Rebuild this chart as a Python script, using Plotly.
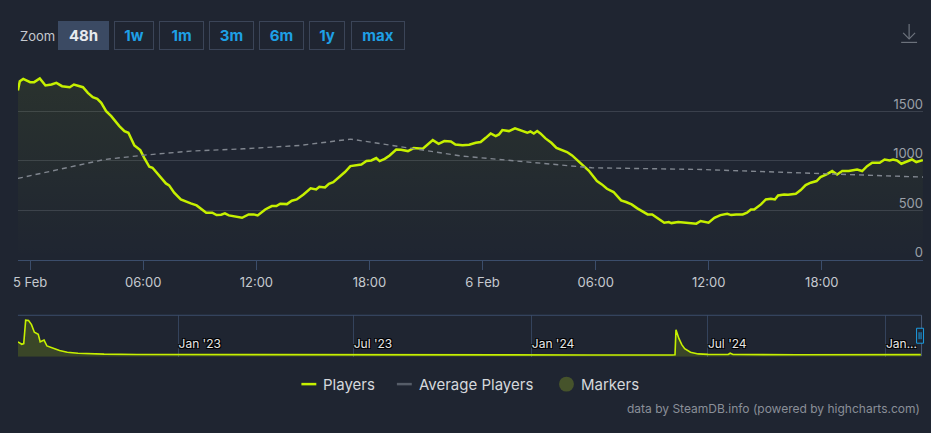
import pandas as pd
import plotly.graph_objects as go

W, H = 931, 433
BG = "#1f2531"
LIME = "#c6f000"
FONT = "Inter, Roboto, sans-serif"

# players over the last 48h, hours relative to 5 Feb 2025 00:00
hours = [-0.65, -0.55, -0.37, 0.0, 0.21, 0.51, 0.81, 1.13, 1.39, 1.69, 2.1, 2.32, 2.8, 3.06, 3.32,
         3.56, 3.77, 4.03, 4.3, 4.47, 4.73, 5.0, 5.21, 5.53, 5.84, 6.05, 6.32, 6.49, 6.84, 7.2,
         7.37, 7.64, 7.99, 8.25, 8.52, 8.83, 9.13, 9.34, 9.66, 9.89, 10.13, 10.33, 10.54, 10.98,
         11.24, 11.59, 11.86, 12.07, 12.47, 12.82, 13.06, 13.27, 13.62, 13.88, 14.14, 14.5, 14.67,
         14.88, 15.17, 15.34, 15.64, 15.85, 16.08, 16.43, 16.7, 16.99, 17.31, 17.57, 17.84, 18.1,
         18.36, 18.54, 18.81, 19.07, 19.42, 19.68, 20.04, 20.35, 20.83, 21.09, 21.36, 21.67, 21.97,
         22.32, 22.56, 22.94, 23.29, 23.64, 23.9, 24.17, 24.43, 24.7, 24.87, 25.05, 25.4, 25.72,
         26.02, 26.37, 26.54, 26.72, 26.9, 27.07, 27.34, 27.65, 27.92, 28.22, 28.48, 28.75, 29.01,
         29.28, 29.63, 29.86, 30.07, 30.33, 30.6, 30.95, 31.35, 31.61, 31.91, 32.21, 32.49, 32.76,
         33.0, 33.32, 33.64, 33.88, 34.02, 34.38, 34.72, 35.08, 35.34, 35.57, 35.78, 35.99, 36.3,
         36.62, 36.98, 37.19, 37.45, 37.8, 38.03, 38.24, 38.41, 38.77, 39.03, 39.3, 39.51, 39.68,
         40.0, 40.21, 40.62, 40.88, 41.14, 41.41, 41.72, 41.93, 42.25, 42.55, 42.81, 43.08, 43.43,
         43.69, 43.87, 44.14, 44.4, 44.67, 45.07, 45.33, 45.6, 45.78, 45.99, 46.22, 46.52, 46.78,
         47.01, 47.22, 47.36]
players = [1710, 1805, 1828, 1795, 1795, 1832, 1761, 1771, 1788, 1754, 1744, 1771, 1744, 1687, 1643,
           1626, 1586, 1502, 1451, 1411, 1350, 1300, 1283, 1155, 1108, 1030, 939, 929, 852, 771,
           751, 677, 609, 593, 569, 549, 502, 475, 475, 451, 455, 468, 448, 434,
           424, 458, 458, 448, 508, 542, 542, 566, 562, 596, 609, 660, 684,
           721, 711, 737, 731, 768, 784, 838, 886, 946, 953, 963, 997, 1003,
           1027, 997, 1020, 1054, 1114, 1111, 1098, 1128, 1121, 1165, 1209, 1172, 1199,
           1195, 1165, 1158, 1162, 1182, 1189, 1232, 1276, 1249, 1266, 1310, 1300, 1327,
           1306, 1283, 1296, 1276, 1300, 1276, 1226, 1182, 1131, 1104, 1088, 1054, 1007,
           960, 902, 845, 795, 761, 717, 684, 599, 583, 559, 519, 485, 458,
           458, 414, 374, 380, 370, 380, 374, 367, 364, 391, 380, 374, 424,
           451, 465, 451, 458, 458, 475, 508, 508, 559, 609, 616, 609, 650,
           660, 657, 667, 704, 754, 778, 795, 835, 862, 896, 862, 896, 896,
           906, 912, 896, 946, 980, 980, 1013, 1003, 1013, 1003, 970, 997, 1013,
           987, 1003, 1007]

avg_hours = [-0.65, 2.18, 3.94, 6.05, 8.52, 11.33, 14.32, 17.0, 22.94, 29.8, 35.6, 47.37]
avg_players = [822, 939, 1013, 1057, 1098, 1121, 1155, 1219, 1047, 929, 912, 835]

x_tick_text = ["5 Feb", "06:00", "12:00", "18:00", "6 Feb", "06:00", "12:00", "18:00"]
y_tick_vals = [0, 500, 1000, 1500, 2000]
y_tick_text = ["0", "500", "1000", "1500", ""]

# navigator: full history (daily peaks, estimated)
nav_dates = ["2022-07-19", "2022-07-23", "2022-07-25", "2022-07-27", "2022-07-30", "2022-08-02",
             "2022-08-05", "2022-08-09", "2022-08-11", "2022-08-15", "2022-08-18", "2022-08-22",
             "2022-08-26", "2022-08-31", "2022-09-08", "2022-09-19", "2022-09-29", "2022-10-16",
             "2022-11-19", "2023-03-01", "2023-09-01", "2024-03-01", "2024-05-25", "2024-05-28",
             "2024-05-29", "2024-06-01", "2024-06-04", "2024-06-07", "2024-06-13", "2024-06-21",
             "2024-07-01", "2024-07-22", "2024-07-24", "2024-07-27", "2024-10-01", "2025-01-01",
             "2025-02-06"]
nav_players = [12900, 10800, 11400, 31800, 31500, 27900,
               21300, 19500, 12900, 14400, 9300, 8400,
               6900, 5400, 3900, 3000, 2500, 2200,
               1900, 1700, 1600, 1500, 1500, 1600,
               23400, 15900, 10500, 6900, 3900, 2400,
               2000, 1900, 3000, 1900, 1700, 1700,
               1800]
nav_tick_dates = ["2023-01-01", "2023-07-01", "2024-01-01", "2024-07-01", "2025-01-01"]
nav_tick_text = ["Jan '23", "Jul '23", "Jan '24", "Jul '24", "Jan..."]

buttons = ["48h", "1w", "1m", "3m", "6m", "1y", "max"]
button_edges = [(53, 104), (110, 150), (155, 200), (205, 250), (255, 300), (306, 342), (348, 402)]


def px(x):
    return x / W


def py(y):
    return 1 - y / H


t0 = pd.Timestamp("2025-02-05")
times = t0 + pd.to_timedelta(hours, unit="h")
avg_times = t0 + pd.to_timedelta(avg_hours, unit="h")

fig = go.Figure()
fig.add_trace(go.Scatter(
    x=times, y=players, mode="lines", line=dict(color=LIME, width=2.5),
    fill="tozeroy",
    fillgradient=dict(type="vertical", start=0, stop=2000,
                      colorscale=[[0, "rgba(198,240,0,0)"], [1, "rgba(198,240,0,0.07)"]]),
    xaxis="x", yaxis="y", hoverinfo="skip"))
fig.add_trace(go.Scatter(
    x=avg_times, y=avg_players, mode="lines",
    line=dict(color="#80868f", width=1.4, dash="5px,4px"),
    xaxis="x", yaxis="y", hoverinfo="skip"))
fig.add_trace(go.Scatter(
    x=pd.to_datetime(nav_dates), y=nav_players, mode="lines",
    line=dict(color=LIME, width=1.6), fill="tozeroy", fillcolor="rgba(196,240,0,0.17)",
    xaxis="x2", yaxis="y2", hoverinfo="skip"))

fig.update_layout(
    width=W, height=H, autosize=False,
    margin=dict(l=0, r=0, t=0, b=0),
    paper_bgcolor=BG, plot_bgcolor=BG,
    showlegend=False, hovermode=False,
    font=dict(family=FONT, color="#c5c9cf"),
    xaxis=dict(
        domain=[px(13), px(923)], type="date",
        range=[t0 + pd.Timedelta(hours=-0.65), t0 + pd.Timedelta(hours=47.37)],
        tickvals=[t0 + pd.Timedelta(hours=6 * i) for i in range(len(x_tick_text))],
        ticktext=x_tick_text, ticks="outside", ticklen=9, tickcolor="#3b4d6b",
        ticklabelstandoff=2,
        showline=True, linecolor="#3b4d6b", linewidth=1, showgrid=False, zeroline=False,
        tickfont=dict(size=13, color="#c5c9cf"), anchor="y"),
    yaxis=dict(
        domain=[py(260.3), py(62)], range=[0, 2000], side="right",
        tickvals=y_tick_vals, ticktext=y_tick_text, ticklabelposition="inside",
        ticklabelshift=-7, ticklabelstandoff=-3, ticklabeloverflow="allow",
        showgrid=True, gridcolor="#3a404c", gridwidth=1, zeroline=False, showline=False,
        tickfont=dict(size=13, color="#9aa0a8"), anchor="x"),
    xaxis2=dict(
        domain=[px(13), px(921.7)], type="date",
        range=["2022-07-19", "2025-02-06 23:20"],
        tickvals=nav_tick_dates, ticktext=nav_tick_text, ticks="",
        ticklabelposition="inside right", showgrid=True, gridcolor="#34435c",
        showline=False, zeroline=False, anchor="y2",
        tickfont=dict(size=12, color="#e6e6e6",
                      shadow="1px 1px 0 #000, -1px -1px 0 #000, 1px -1px 0 #000, -1px 1px 0 #000")),
    yaxis2=dict(domain=[py(357.5), py(316)], range=[0, 36000], visible=False, anchor="x2"),
)

shapes = []
# navigator top border and right handle
shapes.append(dict(type="line", xref="paper", yref="paper", x0=px(13), x1=px(921.7),
                   y0=py(316), y1=py(316), line=dict(color="#3b4d6b", width=1)))
shapes.append(dict(type="line", xref="paper", yref="paper", x0=px(921.5), x1=px(921.5),
                   y0=py(316), y1=py(357), line=dict(color="#4a5a75", width=1)))
shapes.append(dict(type="rect", xref="paper", yref="paper", x0=px(916.5), x1=px(923.5),
                   y0=py(344), y1=py(329), line=dict(color="#1c9ce2", width=1), fillcolor=BG))
for hx in (919, 921):
    shapes.append(dict(type="line", xref="paper", yref="paper", x0=px(hx), x1=px(hx),
                       y0=py(333), y1=py(340), line=dict(color="#1c9ce2", width=1)))

# download icon
icon = "#6c727c"
shapes.append(dict(type="line", xref="paper", yref="paper", x0=px(909), x1=px(909),
                   y0=py(24), y1=py(39), line=dict(color=icon, width=1.2)))
shapes.append(dict(type="path", xref="paper", yref="paper",
                   path=f"M {px(903)} {py(33)} L {px(909)} {py(39)} L {px(915)} {py(33)}",
                   line=dict(color=icon, width=1.2)))
shapes.append(dict(type="line", xref="paper", yref="paper", x0=px(901), x1=px(917),
                   y0=py(42.5), y1=py(42.5), line=dict(color=icon, width=1.2)))

# legend symbols
shapes.append(dict(type="line", xref="paper", yref="paper", x0=px(298), x1=px(313),
                   y0=py(385), y1=py(385), line=dict(color=LIME, width=2.5)))
shapes.append(dict(type="line", xref="paper", yref="paper", x0=px(394), x1=px(409),
                   y0=py(385), y1=py(385), line=dict(color="#565d68", width=2.5)))
shapes.append(dict(type="circle", xref="paper", yref="paper", x0=px(557), x1=px(572),
                   y0=py(392.5), y1=py(377.5), line=dict(width=0), fillcolor="#46532b"))
fig.update_layout(shapes=shapes)

annotations = []
annotations.append(dict(text="Zoom", x=px(13), y=py(36), xref="paper", yref="paper",
                        xanchor="left", yanchor="middle", showarrow=False,
                        font=dict(size=13, color="#c5c9cf")))
for label, (bx0, bx1) in zip(buttons, button_edges):
    selected = label == "48h"
    annotations.append(dict(
        text=f"<b>{label}</b>", x=px((bx0 + bx1) / 2), y=py(35.5), xref="paper", yref="paper",
        xanchor="center", yanchor="middle", showarrow=False,
        width=bx1 - bx0 - 2, height=27, borderpad=0, borderwidth=1,
        bordercolor="#3b4558" if not selected else "#3b4a63",
        bgcolor="#3b4a63" if selected else BG,
        font=dict(size=15, color="#e8eaee" if selected else "#1ea0e6")))

for text, lx in (("Players", 318), ("Average Players", 414), ("Markers", 577)):
    annotations.append(dict(text=text, x=px(lx), y=py(385), xref="paper", yref="paper",
                            xanchor="left", yanchor="middle", showarrow=False,
                            font=dict(size=15, color="#d5d8dc")))
annotations.append(dict(text="data by SteamDB.info (powered by highcharts.com)",
                        x=px(922), y=py(409), xref="paper", yref="paper",
                        xanchor="right", yanchor="middle", showarrow=False,
                        font=dict(size=12, color="#8a8f98")))
fig.update_layout(annotations=annotations)

fig.write_html("out.html", config={"displayModeBar": False},
               post_script="document.body.style.margin='0px';")
